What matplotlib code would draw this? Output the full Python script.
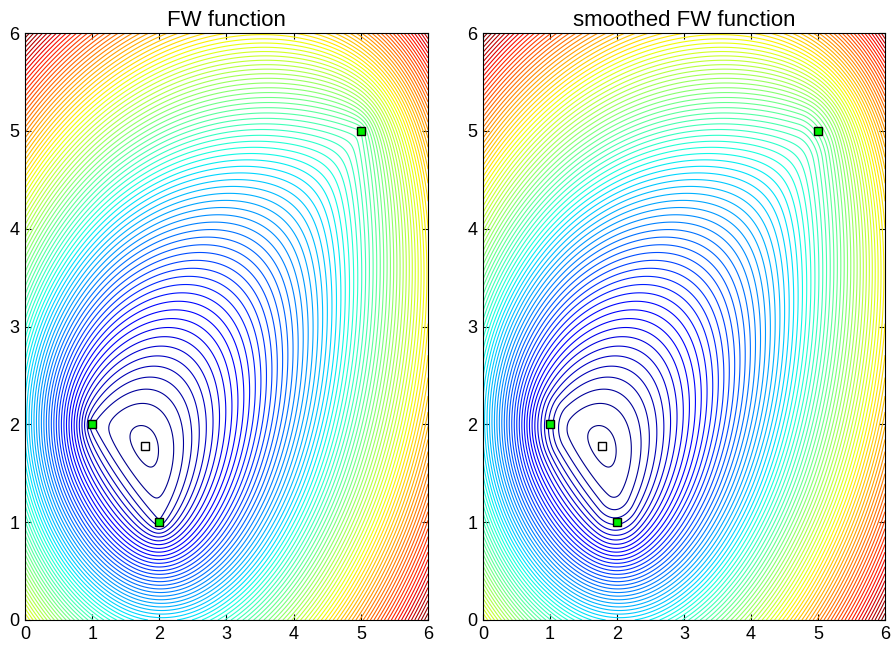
import numpy as np
import matplotlib
matplotlib.use("Agg")
import matplotlib.pyplot as plt

plt.rcParams['font.family'] = ['Liberation Sans', 'DejaVu Sans']

# anchor points (green squares) and minimiser (white square)
anchor_x = [1.0, 2.0, 5.0]
anchor_y = [2.0, 1.0, 5.0]
min_x = 1.78
min_y = 1.78
first_level = 6.2
last_level = 14.6
level_step = 0.1
mu = 0.3
titles = ["FW function", "smoothed FW function"]
ticks = [0, 1, 2, 3, 4, 5, 6]


def fw(X, Y, mu=0.0):
    total = np.zeros_like(X)
    for ax_, ay_ in zip(anchor_x, anchor_y):
        d = np.sqrt((X - ax_)**2 + (Y - ay_)**2)
        if mu > 0:
            # huber-like smoothing close to the anchor
            d = np.where(d > mu, d, d**2 / (2*mu) + mu/2)
        total += d
    return total


g = np.linspace(0, 6, 601)
X, Y = np.meshgrid(g, g)
Z_list = [fw(X, Y), fw(X, Y, mu)]
levels = np.arange(first_level, last_level + 1e-9, level_step)

fig = plt.figure(figsize=(8.93, 6.45), dpi=100)
ax_pos = [[25/893, 25/645, 403/893, 587/645],
          [483/893, 25/645, 402/893, 587/645]]

for pos, Z, title in zip(ax_pos, Z_list, titles):
    ax = fig.add_axes(pos)
    ax.contour(X, Y, Z, levels, cmap='jet', linewidths=0.8)
    ax.plot(anchor_x, anchor_y, 's', color='#00ee00', mec='black',
            mew=1.0, ms=5.5)
    ax.plot([min_x], [min_y], 's', color='white', mec='black',
            mew=1.0, ms=5.5)
    ax.set_xlim(0, 6)
    ax.set_ylim(0, 6)
    ax.set_xticks(ticks)
    ax.set_yticks(ticks)
    ax.tick_params(direction='in', top=True, right=True, labelsize=13,
                   length=4, pad=4)
    ax.set_title(title, fontsize=16, pad=5)

fig.savefig("out.png", dpi=100)
